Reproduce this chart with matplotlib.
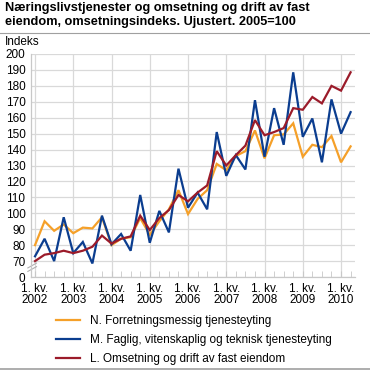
import matplotlib
matplotlib.use("Agg")
import matplotlib.pyplot as plt
from matplotlib.lines import Line2D

plt.rcParams['font.family'] = ['Liberation Sans', 'DejaVu Sans']

# quarterly index, 1. kv. 2002 .. 2. kv. 2010
years = [str(y) for y in range(2002, 2011)]

forretning = [80, 95, 89, 93, 87.5, 91, 90.5, 97.5,
              80, 84, 85, 97, 86.5, 95, 102.5, 114.5,
              99.5, 109, 114.5, 131, 127, 136, 139, 152,
              134.5, 149, 149.5, 156.5, 135.5, 143, 141.5, 148.5,
              132, 142]
faglig = [73, 84, 70, 97.5, 75, 82, 68.5, 98.5,
          80.5, 87, 76.5, 111.5, 81.5, 101.5, 88, 128,
          103.5, 113, 102.5, 151, 123.5, 136.5, 127.5, 171,
          135.5, 166, 143, 188.5, 148, 159.5, 132, 171.5,
          150, 163.5]
eiendom = [70, 74, 75, 76.5, 75, 76.5, 79, 86,
           81, 84, 85.5, 98.5, 89.5, 97, 102, 111.5,
           107.5, 113, 117.5, 139, 130, 136.5, 142.5, 158.5,
           149, 151, 153.5, 166, 165, 173, 169, 180,
           177, 188.5]

labels = ['N. Forretningsmessig tjenesteyting',
          'M. Faglig, vitenskaplig og teknisk tjenesteyting',
          'L. Omsetning og drift av fast eiendom']
colors = ['#f5a029', '#0b3d8f', '#9b1b2a']

W = H = 370
fig = plt.figure(figsize=(3.7, 3.7), dpi=100)
ax = fig.add_axes([31 / W, 1 - 277 / H, (355 - 31) / W, (277 - 54) / H])

x = list(range(len(eiendom)))
for series, c in zip([forretning, faglig, eiendom], colors):
    ax.plot(x, series, color=c, lw=1.6, solid_joinstyle='miter')

ax.set_xlim(-0.42, 33.46)
ax.set_ylim(60, 200)

# y axis is broken: bottom gridline is 0, then 70..200
yt = list(range(60, 201, 10))
ax.set_yticks(yt)
ax.set_yticklabels(['0'] + [str(v) for v in yt[1:]])
ax.set_xticks(list(range(0, 34, 4)))
ax.set_xticklabels(['1. kv.\n' + y for y in years])
ax.set_xticks(x, minor=True)

ax.grid(True, which='major', color='#d9d9d9', lw=0.9)
ax.set_axisbelow(True)
ax.tick_params(axis='y', length=0, labelsize=8.5, pad=4, colors='#000000')
ax.tick_params(axis='x', which='both', direction='in', length=4, color='#c8c8c8',
               labelsize=8.5, pad=4)
for lab in ax.get_xticklabels():
    lab.set_linespacing(0.95)
for s in ['top', 'right']:
    ax.spines[s].set_visible(False)
for s in ['left', 'bottom']:
    ax.spines[s].set_color('#c8c8c8')
    ax.spines[s].set_linewidth(0.9)

# break marks on the y axis
for dy in (0, 2.2):
    ax.plot([-0.75, 0.15], [63.5 + dy, 66.5 + dy], color='#b0b0b0', lw=0.8,
            clip_on=False)

fig.text(5 / W, 1 - 2 / H,
         'Næringslivstjenester og omsetning og drift av fast\n'
         'eiendom, omsetningsindeks. Ujustert. 2005=100',
         ha='left', va='top', fontsize=9.2, fontweight='bold', linespacing=1.2)
fig.add_artist(Line2D([0, 1], [1 - 33 / H, 1 - 33 / H], color='#a0a0a0', lw=0.8))
fig.add_artist(Line2D([0, 1], [1 - 369 / H, 1 - 369 / H], color='#a0a0a0', lw=1.2))
fig.text(5 / W, 1 - 42 / H, 'Indeks', ha='left', va='center', fontsize=8.5)

handles = [Line2D([], [], color=c, lw=1.6) for c in colors]
fig.legend(handles, labels, loc='upper left', bbox_to_anchor=(50 / W, 1 - 309 / H),
           frameon=False, fontsize=8.5, handlelength=2.0, handletextpad=0.9,
           labelspacing=0.6, borderpad=0)

fig.savefig('out.png', dpi=100)
